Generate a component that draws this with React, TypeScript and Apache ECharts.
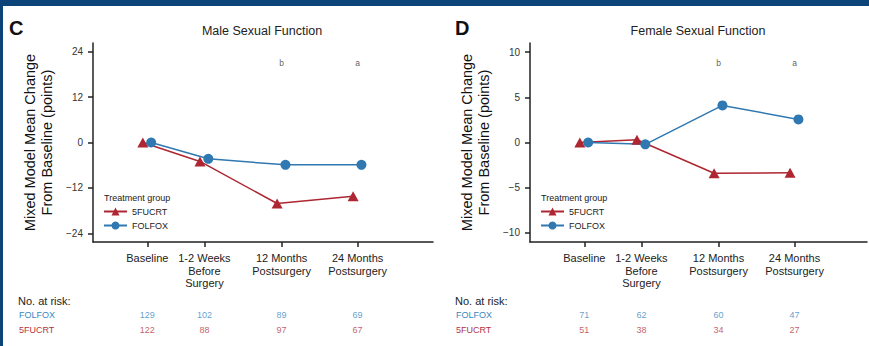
import React, { useEffect, useRef } from "react";
import * as echarts from "echarts";

const categories = ["Baseline", "1-2 Weeks\nBefore\nSurgery", "12 Months\nPostsurgery", "24 Months\nPostsurgery"];
const categoryPos = [1, 2, 3.35, 4.68];
const maleFolfox = [0, -4.3, -5.9, -5.9];
const male5fucrt = [0, -5.0, -16.1, -14.2];
const femaleFolfox = [0, -0.2, 4.1, 2.55];
const female5fucrt = [0, 0.3, -3.4, -3.35];
const maleRiskFolfox = [129, 102, 89, 69];
const maleRisk5fucrt = [122, 88, 97, 67];
const femaleRiskFolfox = [71, 62, 60, 47];
const femaleRisk5fucrt = [51, 38, 34, 27];
const maleTicks = [-24, -12, 0, 12, 24];
const femaleTicks = [-10, -5, 0, 5, 10];
const sigMarks = ["", "", "b", "a"];
const riskGroups = ["FOLFOX", "5FUCRT"];

const FONT = "Liberation Sans, Arial, Helvetica, sans-serif";
const RED = "#ad2631";
const BLUE = "#2f78b2";
const RED_TXT = "#b4343f";
const BLUE_TXT = "#3a88c2";
const AX = "#222222";
const DODGE_RED = -0.078;
const DODGE_BLUE = 0.068;

function fmtMinus(v: number) {
  return v < 0 ? "\u2212" + Math.abs(v) : String(v);
}
function catLabel(v: number) {
  const i = categoryPos.findIndex((p) => Math.abs(p - v) < 1e-6);
  return i >= 0 ? categories[i] : "";
}

function xAxisMain(grid: number, max: number) {
  return {
    gridIndex: grid,
    type: "value",
    min: 0.05,
    max,
    axisLine: { show: true, onZero: false, lineStyle: { color: AX, width: 1.5 } },
    axisTick: { show: true, customValues: categoryPos, length: 5, lineStyle: { color: AX, width: 1.5 } },
    axisLabel: {
      customValues: categoryPos,
      formatter: catLabel,
      margin: 10,
      fontSize: 11,
      lineHeight: 12.5,
      color: AX,
      fontFamily: FONT,
    },
    splitLine: { show: false },
  };
}
function yAxisMain(grid: number, lim: number, ticks: number[]) {
  return {
    gridIndex: grid,
    type: "value",
    min: -lim,
    max: lim,
    name: "Mixed Model Mean Change\nFrom Baseline (points)",
    nameLocation: "middle",
    nameRotate: 90,
    nameGap: 38,
    nameTextStyle: { fontSize: 14.5, lineHeight: 17, color: "#111", fontFamily: FONT },
    axisLine: { show: true, onZero: false, lineStyle: { color: AX, width: 1.5 } },
    axisTick: { show: true, customValues: ticks, length: 5, lineStyle: { color: AX, width: 1.5 } },
    axisLabel: { customValues: ticks, formatter: fmtMinus, margin: 10, fontSize: 10, color: "#333", fontFamily: FONT },
    splitLine: { show: false },
  };
}
function riskY(grid: number) {
  return {
    gridIndex: grid,
    type: "category",
    data: riskGroups,
    inverse: true,
    axisLine: { show: false },
    axisTick: { show: false },
    axisLabel: {
      align: "left",
      margin: 74,
      fontSize: 9,
      fontFamily: FONT,
      color: (v: string) => (v === "FOLFOX" ? BLUE_TXT : RED_TXT),
    },
    splitLine: { show: false },
  };
}
function lineSeries(name: string, axis: number, vals: number[], red: boolean) {
  return {
    name,
    type: "line",
    xAxisIndex: axis,
    yAxisIndex: axis,
    data: categoryPos.map((x, i) => [x + (red ? DODGE_RED : DODGE_BLUE), vals[i]]),
    symbol: red ? "triangle" : "circle",
    symbolSize: red ? [11, 10] : 10,
    itemStyle: { color: red ? RED : BLUE },
    lineStyle: { color: red ? RED : BLUE, width: 1.5 },
  };
}
function riskSeries(axis: number, group: string, vals: number[], color: string) {
  return {
    name: "risk-" + group + axis,
    type: "scatter",
    xAxisIndex: axis,
    yAxisIndex: axis,
    symbolSize: 1,
    itemStyle: { color: "transparent" },
    silent: true,
    data: categoryPos.map((x, i) => [x, group, vals[i]]),
    label: {
      show: true,
      position: "inside",
      formatter: (p: any) => String(p.value[2]),
      fontSize: 9,
      fontFamily: FONT,
      color,
    },
  };
}
function sigSeries(axis: number, yv: number) {
  return {
    name: "sig" + axis,
    type: "scatter",
    xAxisIndex: axis,
    yAxisIndex: axis,
    symbolSize: 1,
    itemStyle: { color: "transparent" },
    silent: true,
    data: categoryPos.map((x, i) => ({ value: [x, yv], mark: sigMarks[i] })).filter((d) => d.mark),
    label: {
      show: true,
      position: "inside",
      formatter: (p: any) => p.data.mark,
      fontSize: 8.5,
      fontFamily: FONT,
      color: "#333",
    },
  };
}
function legend(left: number) {
  return {
    data: ["5FUCRT", "FOLFOX"],
    orient: "vertical",
    left,
    top: 207,
    itemWidth: 23,
    itemHeight: 10,
    itemGap: 5,
    padding: 0,
    selectedMode: false,
    textStyle: { fontSize: 9, color: "#222", fontFamily: FONT },
  };
}
function txt(text: string, x: number, y: number, font: string, fill: string, align = "left") {
  return { type: "text", x, y, silent: true, style: { text, font, fill, align, verticalAlign: "middle" } };
}

export default function App() {
  const ref = useRef<HTMLDivElement>(null);
  useEffect(() => {
    if (!ref.current) return;
    const chart = echarts.init(ref.current, undefined, { renderer: "svg" });
    const option: any = {
      animation: false,
      backgroundColor: "#ffffff",
      grid: [
        { left: 93, top: 43, width: 340, height: 199 },
        { left: 530, top: 43, width: 337, height: 199 },
        { left: 93, top: 307, width: 340, height: 30 },
        { left: 530, top: 307, width: 337, height: 30 },
      ],
      xAxis: [
        xAxisMain(0, 6.0),
        xAxisMain(1, 5.948),
        { gridIndex: 2, type: "value", min: 0.05, max: 6.0, show: false },
        { gridIndex: 3, type: "value", min: 0.05, max: 5.948, show: false },
      ],
      yAxis: [yAxisMain(0, 26.25, maleTicks), yAxisMain(1, 11, femaleTicks), riskY(2), riskY(3)],
      legend: [legend(103), legend(540)],
      series: [
        lineSeries("5FUCRT", 0, male5fucrt, true),
        lineSeries("FOLFOX", 0, maleFolfox, false),
        lineSeries("5FUCRT", 1, female5fucrt, true),
        lineSeries("FOLFOX", 1, femaleFolfox, false),
        sigSeries(0, 21.1),
        sigSeries(1, 8.8),
        riskSeries(2, "FOLFOX", maleRiskFolfox, BLUE_TXT),
        riskSeries(2, "5FUCRT", maleRisk5fucrt, RED_TXT),
        riskSeries(3, "FOLFOX", femaleRiskFolfox, BLUE_TXT),
        riskSeries(3, "5FUCRT", femaleRisk5fucrt, RED_TXT),
      ],
      graphic: [
        { type: "rect", silent: true, shape: { x: 0, y: 0, width: 869, height: 6 }, style: { fill: "#0c4379" } },
        { type: "rect", silent: true, shape: { x: 0, y: 0, width: 3, height: 346 }, style: { fill: "#0c4379" } },
        txt("C", 9, 28, "bold 20px " + FONT, "#111"),
        txt("D", 455, 28, "bold 20px " + FONT, "#111"),
        txt("Male Sexual Function", 262, 31, "12.5px " + FONT, "#222", "center"),
        txt("Female Sexual Function", 698, 31, "12.5px " + FONT, "#222", "center"),
        txt("Treatment group", 104, 198, "9px " + FONT, "#222"),
        txt("Treatment group", 541, 198, "9px " + FONT, "#222"),
        txt("No. at risk:", 18, 301, "11px " + FONT, "#222"),
        txt("No. at risk:", 455, 301, "11px " + FONT, "#222"),
      ],
    };
    chart.setOption(option);
    return () => chart.dispose();
  }, []);
  return (
    <div
      ref={ref}
      style={{ position: "fixed", left: 0, top: 0, width: 869, height: 346, background: "#fff" }}
    />
  );
}
